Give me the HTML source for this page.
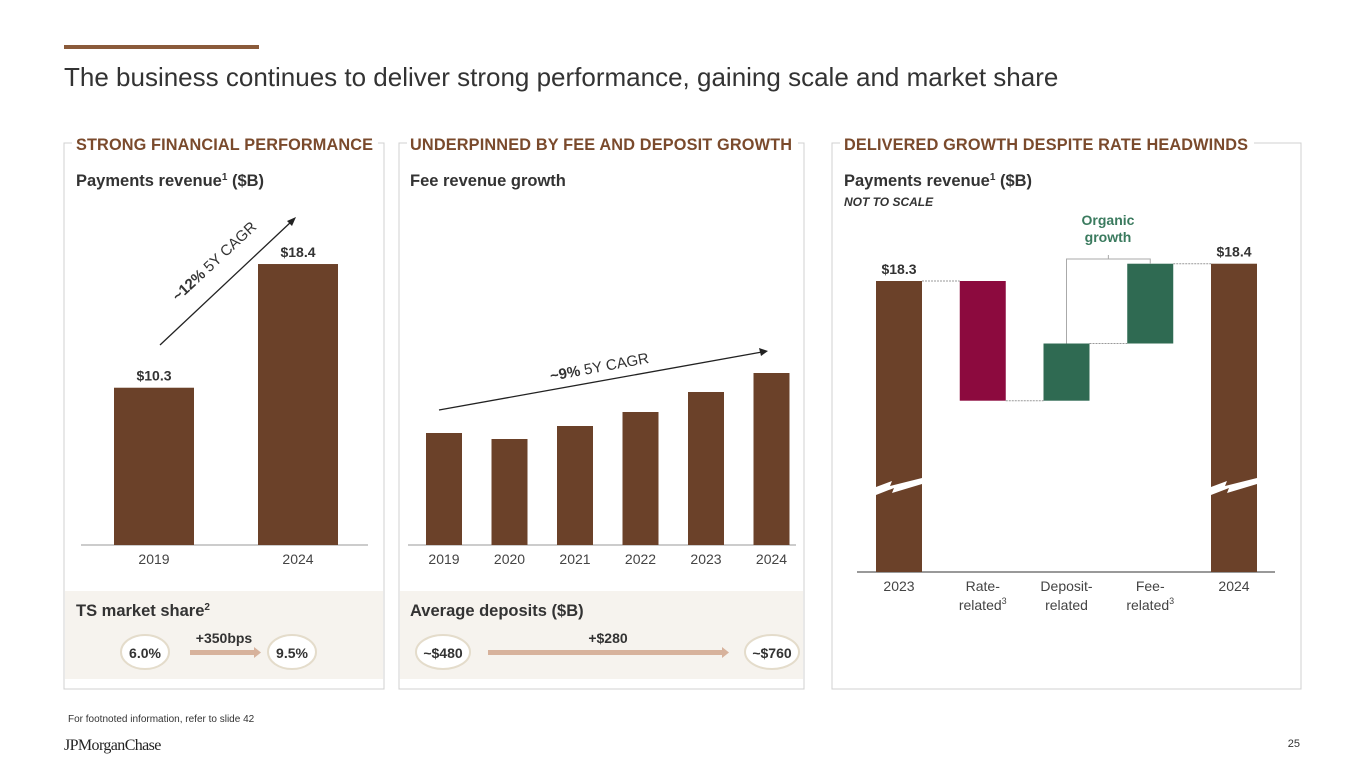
<!DOCTYPE html>
<html><head><meta charset="utf-8"><style>
body{margin:0;width:1365px;height:768px;background:#fff;overflow:hidden;font-family:"Liberation Sans",Arial,sans-serif}
svg text{font-family:"Liberation Sans",Arial,sans-serif}
</style></head><body>
<svg id="s" width="1365" height="768" viewBox="0 0 1365 768" xmlns="http://www.w3.org/2000/svg">
<rect x="64" y="45" width="195" height="4" fill="#8a5a3a"/>
<text x="64" y="86" font-size="26" fill="#333">The business continues to deliver strong performance, gaining scale and market share</text>

<g>
<path d="M72 143H64V689H384V143H378" fill="none" stroke="#d0d0d0"/>
<text x="76" y="150" font-size="16.3" font-weight="bold" fill="#7a4a2c" textLength="297">STRONG FINANCIAL PERFORMANCE</text>
<text x="76" y="186" font-size="16.5" font-weight="bold" fill="#333">Payments revenue<tspan font-size="10" dy="-6">1</tspan><tspan dy="6"> ($B)</tspan></text>
<rect x="65" y="591" width="318" height="88" fill="#f6f3ee"/>
<text x="76" y="616" font-size="16.5" font-weight="bold" fill="#333">TS market share<tspan font-size="10" dy="-6">2</tspan></text>
</g>
<g>
<path d="M407 143H399V689H804V143H798" fill="none" stroke="#d0d0d0"/>
<text x="410" y="150" font-size="16.3" font-weight="bold" fill="#7a4a2c" textLength="382">UNDERPINNED BY FEE AND DEPOSIT GROWTH</text>
<text x="410" y="186" font-size="16.5" font-weight="bold" fill="#333">Fee revenue growth</text>
<rect x="400" y="591" width="403" height="88" fill="#f6f3ee"/>
<text x="410" y="616" font-size="16.5" font-weight="bold" fill="#333">Average deposits ($B)</text>
</g>
<g>
<path d="M840 143H832V689H1301V143H1254" fill="none" stroke="#d0d0d0"/>
<text x="844" y="150" font-size="16.3" font-weight="bold" fill="#7a4a2c" textLength="404">DELIVERED GROWTH DESPITE RATE HEADWINDS</text>
<text x="844" y="186" font-size="16.5" font-weight="bold" fill="#333">Payments revenue<tspan font-size="10" dy="-6">1</tspan><tspan dy="6"> ($B)</tspan></text>
<text x="844" y="206" font-size="12" font-weight="bold" font-style="italic" fill="#333">NOT TO SCALE</text>
</g>
<g id="left"></g><g id="mid"></g><g id="right"></g>

<g>
<ellipse cx="145" cy="652" rx="24" ry="17" fill="#fff" stroke="#e4dccb" stroke-width="2"/>
<text x="145" y="658" font-size="14" font-weight="bold" text-anchor="middle" fill="#333">6.0%</text>
<rect x="190" y="650" width="64" height="5" fill="#d7b29c"/><path d="M254 647L261 652.5L254 658Z" fill="#d7b29c"/>
<text x="224" y="643" font-size="14" font-weight="bold" text-anchor="middle" fill="#333">+350bps</text>
<ellipse cx="292" cy="652" rx="24" ry="17" fill="#fff" stroke="#e4dccb" stroke-width="2"/>
<text x="292" y="658" font-size="14" font-weight="bold" text-anchor="middle" fill="#333">9.5%</text>
</g>
<g>
<ellipse cx="443" cy="652" rx="27" ry="17" fill="#fff" stroke="#e4dccb" stroke-width="2"/>
<text x="443" y="658" font-size="14" font-weight="bold" text-anchor="middle" fill="#333">~$480</text>
<rect x="488" y="650" width="234" height="5" fill="#d7b29c"/><path d="M722 647L729 652.5L722 658Z" fill="#d7b29c"/>
<text x="608" y="643" font-size="14" font-weight="bold" text-anchor="middle" fill="#333">+$280</text>
<ellipse cx="772" cy="652" rx="27" ry="17" fill="#fff" stroke="#e4dccb" stroke-width="2"/>
<text x="772" y="658" font-size="14" font-weight="bold" text-anchor="middle" fill="#333">~$760</text>
</g>

<text x="68" y="722" font-size="10" fill="#333">For footnoted information, refer to slide 42</text>
<text x="64" y="750" font-size="16" fill="#222" style="font-family:'Liberation Serif',serif" letter-spacing="-0.6">JPMorganChase</text>
<text x="1300" y="747" font-size="11" text-anchor="end" fill="#333">25</text>
</svg>
<script>
const NS="http://www.w3.org/2000/svg";
function mk(p,t,a,txt){const e=document.createElementNS(NS,t);for(const k in a)e.setAttribute(k,a[k]);if(txt!=null)e.textContent=txt;p.appendChild(e);return e;}
const BROWN="#6b4129";

// Left chart data
const leftYears=["2019","2024"];
const leftValues=[10.3,18.4];
const leftLabels=["$10.3","$18.4"];
// Middle chart data (fee revenue, relative units)
const midYears=["2019","2020","2021","2022","2023","2024"];
const midValues=[112,106,119,133,153,172];
// Waterfall data
const wfCats=[["2023"],["Rate-","related"],["Deposit-","related"],["Fee-","related"],["2024"]];
const wfStart=18.3;
const wfDeltas=[-0.9,0.43,0.6];
const wfEnd=18.43;
const wfLabels=["$18.3","$18.4"];

// Left
const L=document.getElementById('left');
const lBase=545, lScale=15.27;
const lx=i=>114+i*144;
const ly=v=>lBase-v*lScale;
mk(L,'line',{x1:81,x2:368,y1:lBase,y2:lBase,stroke:"#999"});
leftValues.forEach((v,i)=>{
 const r=mk(L,'rect',{x:lx(i),y:ly(v),width:80,height:lBase-ly(v),fill:BROWN});
 
 
 mk(L,'text',{x:lx(i)+40,y:ly(v)-7,"font-size":14,"font-weight":"bold","text-anchor":"middle",fill:"#333"},leftLabels[i]);
 mk(L,'text',{x:lx(i)+40,y:564,"font-size":14,"text-anchor":"middle",fill:"#444"},leftYears[i]);
});
mk(L,'line',{x1:160,y1:345,x2:292,y2:221,stroke:"#222","stroke-width":1.3});
mk(L,'path',{d:"M296 217L287 221L292 226Z",fill:"#222"});
const lt=mk(L,'text',{transform:"translate(178,302) rotate(-43)","font-size":15,fill:"#333"});
mk(lt,'tspan',{"font-weight":"bold"},"~12%");mk(lt,'tspan',{},"  5Y CAGR");

// Middle
const M=document.getElementById('mid');
const mBase=545;
const mx=i=>426+i*65.5;
const my=v=>mBase-v;
mk(M,'line',{x1:408,x2:796,y1:mBase,y2:mBase,stroke:"#999"});
midValues.forEach((v,i)=>{
 const r=mk(M,'rect',{x:mx(i),y:my(v),width:36,height:mBase-my(v),fill:BROWN});
 
 
 mk(M,'text',{x:mx(i)+18,y:564,"font-size":14,"text-anchor":"middle",fill:"#444"},midYears[i]);
});
mk(M,'line',{x1:439,y1:410,x2:762,y2:352,stroke:"#222","stroke-width":1.3});
mk(M,'path',{d:"M768 351L759 348L761 356Z",fill:"#222"});
const mt=mk(M,'text',{transform:"translate(551,381) rotate(-10.5)","font-size":15,fill:"#333"});
mk(mt,'tspan',{"font-weight":"bold"},"~9%");mk(mt,'tspan',{},"  5Y CAGR");

// Waterfall
const R=document.getElementById('right');
const wBase=572, wScale=133;
const wx=i=>876+i*83.75;
const wy=v=>281-(v-wfStart)*wScale;
mk(R,'line',{x1:857,x2:1275,y1:wBase,y2:wBase,stroke:"#333"});
let cur=wfStart;
const s0=mk(R,'rect',{x:wx(0),y:wy(wfStart),width:46,height:wBase-wy(wfStart),fill:BROWN});


const tops=[];
wfDeltas.forEach((d,i)=>{
 const a=wy(cur),b=wy(cur+d);
 mk(R,'line',{x1:wx(i)+46,x2:wx(i+1),y1:a,y2:a,stroke:"#999","stroke-dasharray":"2,1"});
 const r=mk(R,'rect',{x:wx(i+1),y:Math.min(a,b),width:46,height:Math.abs(a-b),fill:d<0?"#8c0a3e":"#2f6a52"});
 
 
 tops.push(Math.min(a,b));
 cur+=d;
});
mk(R,'line',{x1:wx(3)+46,x2:wx(4),y1:wy(cur),y2:wy(cur),stroke:"#999","stroke-dasharray":"2,1"});
const s4=mk(R,'rect',{x:wx(4),y:wy(wfEnd),width:46,height:wBase-wy(wfEnd),fill:BROWN});


[0,4].forEach(i=>{
 mk(R,'path',{d:`M${wx(i)} 487L${wx(i)+16} 481L${wx(i)+14} 486L${wx(i)+46} 478V484L${wx(i)+16} 493L${wx(i)+18} 488L${wx(i)} 495Z`,fill:"#fff"});
});
mk(R,'text',{x:wx(0)+23,y:wy(wfStart)-7,"font-size":14,"font-weight":"bold","text-anchor":"middle",fill:"#333"},wfLabels[0]);
mk(R,'text',{x:wx(4)+23,y:wy(wfEnd)-7,"font-size":14,"font-weight":"bold","text-anchor":"middle",fill:"#333"},wfLabels[1]);
wfCats.forEach((c,i)=>{
 c.forEach((t,j)=>{
  const e=mk(R,'text',{x:wx(i)+23,y:591+j*19,"font-size":14,"text-anchor":"middle",fill:"#444"},t);
  if(j==1&&(i==1||i==3)){mk(e,'tspan',{"font-size":9,dy:-6},"3");}
 });
});
// bracket
const bxL=wx(2)+23, bxR=wx(3)+23;
mk(R,'path',{d:`M${bxL} ${tops[1]}V259H${bxR}V${tops[2]} M${(bxL+bxR)/2} 259V255`,fill:"none",stroke:"#aaa"});
mk(R,'text',{x:1108,y:225,"font-size":14,"font-weight":"bold","text-anchor":"middle",fill:"#3a7a5e"},"Organic");
mk(R,'text',{x:1108,y:242,"font-size":14,"font-weight":"bold","text-anchor":"middle",fill:"#3a7a5e"},"growth");
</script>
</body></html>
